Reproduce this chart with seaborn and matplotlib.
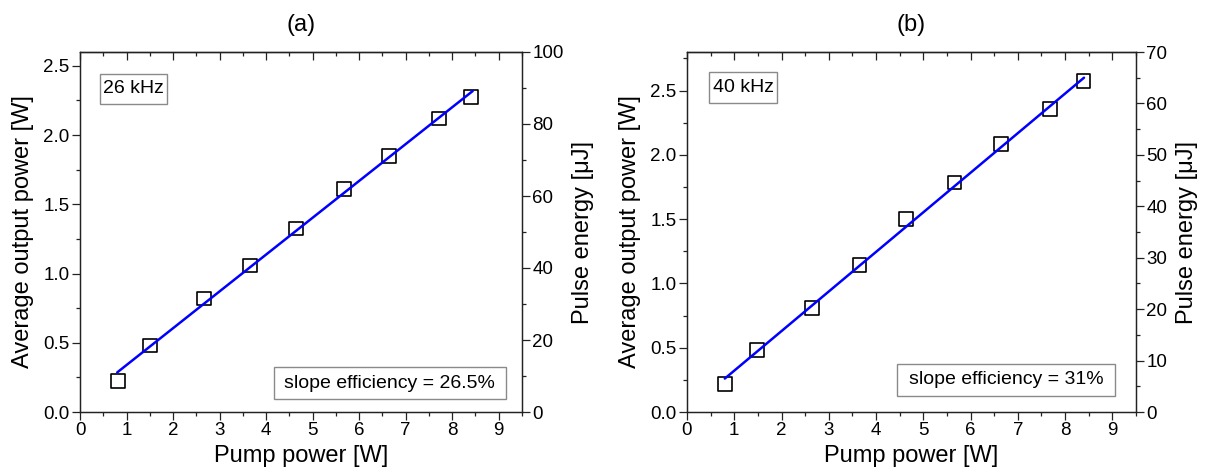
import numpy as np
import pandas as pd
import matplotlib
matplotlib.use("Agg")
import matplotlib.pyplot as plt
import seaborn as sns
from matplotlib.ticker import MultipleLocator
from matplotlib.patches import Rectangle

# ---------------- data ----------------
pump_a = [0.82, 1.50, 2.66, 3.66, 4.64, 5.67, 6.65, 7.71, 8.41]
power_a = [0.226, 0.48, 0.82, 1.058, 1.325, 1.608, 1.851, 2.12, 2.276]
fit_pump_a = [0.80, 8.44]
fit_power_a = [0.286, 2.318]

pump_b = [0.80, 1.48, 2.64, 3.65, 4.63, 5.66, 6.64, 7.68, 8.39]
power_b = [0.216, 0.484, 0.806, 1.144, 1.498, 1.785, 2.084, 2.36, 2.573]
fit_pump_b = [0.80, 8.40]
fit_power_b = [0.26, 2.60]

rep_rate_khz = [26, 40]
freq_labels = ["26 kHz", "40 kHz"]
slope_labels = ["slope efficiency = 26.5%", "slope efficiency = 31%"]
panel_titles = ["(a)", "(b)"]
energy_max = [100, 70]          # right-axis upper limit [uJ]
energy_major = [20, 10]
energy_minor = [10, 5]

# ---------------- style ----------------
sns.set_style("ticks")
plt.rcParams["font.family"] = ["Liberation Sans", "DejaVu Sans"]
plt.rcParams["axes.edgecolor"] = "#222222"
plt.rcParams["axes.linewidth"] = 0.9
plt.rcParams["text.color"] = "black"
plt.rcParams["axes.labelcolor"] = "black"
plt.rcParams["xtick.color"] = "#222222"
plt.rcParams["ytick.color"] = "#222222"
plt.rcParams["xtick.labelcolor"] = "black"
plt.rcParams["ytick.labelcolor"] = "black"

fig = plt.figure(figsize=(12.07, 4.73), dpi=100)
W, H = 1207, 473
axes_rects = [
    [80 / W, 61 / H, 442 / W, 360 / H],
    [687 / W, 61 / H, 449 / W, 360 / H],
]
freq_boxes = [(0.045, 0.856, 0.152, 0.084), (0.05, 0.858, 0.15, 0.086)]
slope_boxes = [(0.438, 0.037, 0.525, 0.087), (0.468, 0.045, 0.485, 0.088)]

datasets = [
    (pump_a, power_a, fit_pump_a, fit_power_a),
    (pump_b, power_b, fit_pump_b, fit_power_b),
]

LABEL_FS = 17
TICK_FS = 13.5
BOX_FS = 14
MAJ, MIN = 5.5, 2.8

for i, (px, py, fx, fy) in enumerate(datasets):
    ax = fig.add_axes(axes_rects[i])
    uj_per_w = 1000.0 / rep_rate_khz[i]
    ymax = energy_max[i] / uj_per_w

    sns.scatterplot(x=px, y=py, ax=ax, marker="s", s=100,
                    facecolors="none", edgecolor="black", linewidth=1.2,
                    zorder=3)
    sns.lineplot(x=fx, y=fy, ax=ax, color="#0000ff", linewidth=1.8,
                 zorder=4)

    ax.set_xlim(0, 9.5)
    ax.set_ylim(0, ymax)
    ax.xaxis.set_major_locator(MultipleLocator(1))
    ax.xaxis.set_minor_locator(MultipleLocator(0.5))
    ax.yaxis.set_major_locator(MultipleLocator(0.5))
    ax.yaxis.set_minor_locator(MultipleLocator(0.25))
    ax.yaxis.set_major_formatter(matplotlib.ticker.FormatStrFormatter("%.1f"))
    ax.tick_params(axis="both", which="major", direction="out", length=MAJ,
                   width=0.9, labelsize=TICK_FS, pad=2)
    ax.tick_params(axis="both", which="minor", direction="out", length=MIN,
                   width=0.9)
    ax.tick_params(top=False, right=False, which="both")
    for s in ax.spines.values():
        s.set_visible(True)

    # top mirrored ticks pointing inward
    top = ax.secondary_xaxis("top")
    top.xaxis.set_major_locator(MultipleLocator(1))
    top.xaxis.set_minor_locator(MultipleLocator(0.5))
    top.tick_params(which="major", direction="in", length=MAJ, width=0.9,
                    labeltop=False)
    top.tick_params(which="minor", direction="in", length=MIN, width=0.9)

    # right axis: pulse energy
    ax2 = ax.twinx()
    ax2.set_ylim(0, energy_max[i])
    ax2.yaxis.set_major_locator(MultipleLocator(energy_major[i]))
    ax2.yaxis.set_minor_locator(MultipleLocator(energy_minor[i]))
    ax2.tick_params(which="major", direction="out", length=MAJ, width=0.9,
                    labelsize=TICK_FS, pad=2)
    ax2.tick_params(which="minor", direction="out", length=MIN, width=0.9)
    ax2.set_ylabel("Pulse energy [μJ]", fontsize=LABEL_FS, labelpad=6)

    ax.set_xlabel("Pump power [W]", fontsize=LABEL_FS, labelpad=4)
    ax.set_ylabel("Average output power [W]", fontsize=LABEL_FS, labelpad=7)
    ax.set_title(panel_titles[i], fontsize=LABEL_FS, pad=15)

    # annotation boxes
    for (bx, by, bw, bh), label in [(freq_boxes[i], freq_labels[i]),
                                     (slope_boxes[i], slope_labels[i])]:
        ax.add_patch(Rectangle((bx, by), bw, bh, transform=ax.transAxes,
                               facecolor="white", edgecolor="#8a8a8a",
                               linewidth=1.0, zorder=5))
        ax.text(bx + bw / 2, by + bh / 2, label, transform=ax.transAxes,
                ha="center", va="center", fontsize=BOX_FS, zorder=6)

fig.savefig("out.png", dpi=100)
